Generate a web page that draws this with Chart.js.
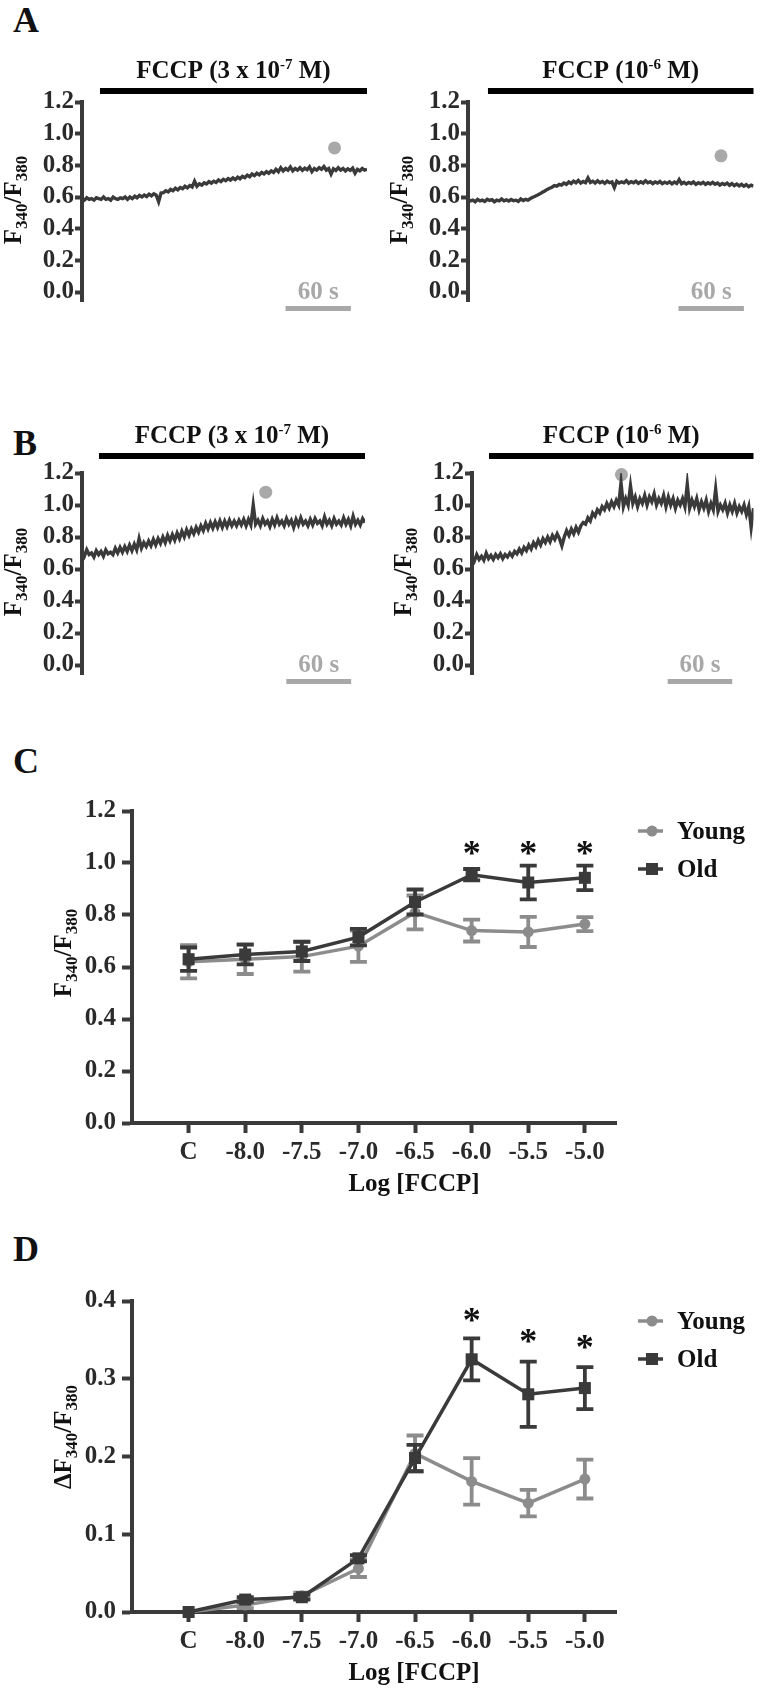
<!DOCTYPE html>
<html>
<head>
<meta charset="utf-8">
<script src="https://cdn.jsdelivr.net/npm/chart.js@4.4.1/dist/chart.umd.min.js"></script>
<style>
  body { margin: 0; background: #fff; }
  #page { position: relative; width: 760px; height: 1689px; overflow: hidden; background: #fff; }
  canvas { position: absolute; }
  .tag { position: absolute; left: 13px; font: bold 36px "Liberation Serif", serif; line-height: 1; color: #111; }
</style>
</head>
<body>
<div id="page">
  <div class="tag" style="top:2px">A</div>
  <div class="tag" style="top:425px">B</div>
  <div class="tag" style="top:743px">C</div>
  <div class="tag" style="top:1231px">D</div>
  <canvas id="a1" width="380" height="300" style="left:0;top:40px"></canvas>
  <canvas id="a2" width="380" height="300" style="left:380px;top:40px"></canvas>
  <canvas id="b1" width="380" height="300" style="left:0;top:400px"></canvas>
  <canvas id="b2" width="380" height="300" style="left:380px;top:400px"></canvas>
  <canvas id="c" width="760" height="410" style="left:0;top:790px"></canvas>
  <canvas id="d" width="760" height="409" style="left:0;top:1280px"></canvas>
</div>
<script>
const FONT = '"Liberation Serif", "Times New Roman", serif';
const DARK = '#3a3a3a';
const GREY = '#8c8c8c';

// --- single cell traces, F340/F380, one sample every dt seconds ---
const dt = 2.2;
const traceA1 = [
  0.59,0.58,0.595,0.585,0.59,0.58,0.595,0.59,0.585,0.6,0.585,0.59,0.58,0.6,0.59,0.585,0.595,0.59,0.6,
  0.585,0.6,0.59,0.605,0.595,0.61,0.6,0.612,0.603,0.618,0.607,0.62,0.611,0.57,0.625,0.628,0.64,
  0.632,0.648,0.64,0.655,0.645,0.66,0.652,0.668,0.658,0.672,0.663,0.7,0.668,0.683,
  0.675,0.69,0.682,0.697,0.688,0.7,0.692,0.708,0.697,0.712,0.703,0.716,0.707,0.72,
  0.71,0.725,0.715,0.73,0.722,0.738,0.728,0.745,0.735,0.75,0.74,0.755,0.746,0.76,0.75,0.765,0.755,0.775,0.76,0.785,0.765,0.78,0.77,0.79,
  0.765,0.78,0.77,0.785,0.768,0.782,0.772,0.79,0.76,0.78,0.77,0.785,0.775,0.792,0.77,0.78,0.745,0.778,0.768,0.785,0.77,0.78,0.765,0.778,0.768,0.782,0.75,0.775,0.765,0.78,0.77,0.775
];
const traceA2 = [
  0.585,0.575,0.58,0.57,0.585,0.575,0.58,0.572,0.586,0.578,0.583,0.57,0.58,0.575,0.588,0.576,0.582,0.574,0.585,0.577,0.58,0.572,0.588,0.578,0.585,0.58,
  0.59,0.598,0.605,0.612,0.62,0.63,0.638,0.648,0.655,0.662,0.672,0.668,0.68,0.675,0.688,0.68,0.695,
  0.685,0.7,0.69,0.705,0.688,0.698,0.69,0.72,0.692,0.7,0.688,0.702,0.69,0.698,0.686,0.7,0.69,0.695,0.66,0.7,
  0.688,0.696,0.69,0.703,0.687,0.697,0.69,0.7,0.686,0.696,0.688,0.702,0.69,0.697,0.685,0.695,0.688,0.698,0.684,0.694,
  0.686,0.696,0.683,0.694,0.685,0.71,0.684,0.693,0.682,0.692,0.685,0.695,0.68,0.69,0.683,0.693,0.68,0.69,0.682,0.692,
  0.68,0.688,0.675,0.686,0.678,0.688,0.674,0.684,0.672,0.682,0.67,0.68,0.668,0.678,0.665,0.675,0.668
];
const traceB1 = [
  0.71,0.68,0.72,0.69,0.70,0.675,0.715,0.69,0.71,0.68,0.72,0.695,0.705,
  0.69,0.73,0.70,0.735,0.705,0.74,0.71,0.75,0.715,0.755,0.72,0.79,0.73,0.765,0.74,0.775,0.745,0.785,0.75,0.79,
  0.76,0.80,0.765,0.81,0.775,0.815,0.78,0.825,0.79,0.835,0.80,0.845,0.81,0.85,0.82,0.86,0.83,0.87,
  0.84,0.885,0.85,0.89,0.855,0.895,0.86,0.9,0.86,0.9,0.865,0.905,0.87,0.9,0.87,0.905,0.875,0.91,0.87,
  0.91,0.875,1.0,0.88,0.905,0.87,0.915,0.88,0.9,0.865,0.91,0.875,0.92,0.88,0.9,0.87,0.915,0.88,0.905,0.86,
  0.91,0.875,0.92,0.88,0.9,0.87,0.91,0.875,0.915,0.885,0.9,0.87,0.925,0.88,0.905,0.87,0.915,0.88,0.9,0.875,
  0.92,0.88,0.91,0.87,0.93,0.88,0.905,0.875,0.915,0.89
];
const traceB2 = [
  0.68,0.65,0.69,0.66,0.68,0.655,0.7,0.665,0.685,0.66,0.69,0.67,0.695,0.665,0.69,0.675,0.7,
  0.68,0.71,0.695,0.725,0.70,0.735,0.715,0.75,0.725,0.765,0.74,0.78,0.75,0.79,0.765,0.80,0.77,0.81,0.785,0.82,0.79,0.745,0.8,0.84,0.81,0.85,0.82,0.86,0.83,
  0.87,0.89,0.88,0.92,0.9,0.95,0.93,0.97,0.95,0.99,0.97,1.01,0.98,1.02,
  0.99,1.03,1.0,1.14,0.99,1.04,1.0,1.12,1.01,1.05,0.99,1.04,1.01,1.06,1.0,1.05,1.02,1.07,1.0,1.04,
  1.01,1.06,0.99,1.05,1.0,1.04,0.98,1.03,1.0,1.04,0.99,1.13,0.98,1.03,0.99,1.04,0.97,1.02,0.98,1.03,
  0.96,1.01,0.97,1.1,0.96,1.0,0.97,1.01,0.95,1.0,0.96,1.01,0.95,0.99,0.96,1.0,0.94,0.99,0.86,0.98
];
const traceTicks = [0, 0.2, 0.4, 0.6, 0.8, 1.0, 1.2];
const fccpConc = [['3 x 10', '-7'], ['10', '-6'], ['3 x 10', '-7'], ['10', '-6']];
const fccpOn = [16.5, 18.3, 15.7, 15.8];      // s
const peakT = [232, 232, 170, 139];           // s
const peakV = [0.91, 0.86, 1.08, 1.19];
const scaleBarT = [187, 193, 189, 182];       // start of the 60 s bar

// --- concentration response ---
const doseLabels = ['C', '-8.0', '-7.5', '-7.0', '-6.5', '-6.0', '-5.5', '-5.0'];
const youngC = [0.62, 0.63, 0.64, 0.68, 0.81, 0.74, 0.735, 0.765];
const youngCErr = [0.064, 0.057, 0.058, 0.06, 0.065, 0.042, 0.058, 0.027];
const oldC = [0.63, 0.648, 0.66, 0.715, 0.85, 0.955, 0.925, 0.943];
const oldCErr = [0.045, 0.038, 0.037, 0.032, 0.048, 0.022, 0.065, 0.047];
const starsC = [null, null, null, null, null, 1.056, 1.056, 1.056];
const ratioTicks = [0, 0.2, 0.4, 0.6, 0.8, 1.0, 1.2];

const youngD = [0, 0.009, 0.021, 0.056, 0.204, 0.168, 0.14, 0.171];
const youngDErr = [0, 0.004, 0.004, 0.011, 0.023, 0.03, 0.017, 0.025];
const oldD = [0, 0.016, 0.019, 0.069, 0.198, 0.325, 0.28, 0.288];
const oldDErr = [0, 0.003, 0.003, 0.004, 0.017, 0.027, 0.042, 0.027];
const starsD = [null, null, null, null, null, 0.382, 0.355, 0.347];
const deltaTicks = [0, 0.1, 0.2, 0.3, 0.4];

// draw text made of pieces (sub/superscripts)
function drawRich(ctx, parts, x, y, align) {
  const widths = parts.map(p => { ctx.font = `bold ${p.size}px ${FONT}`; return ctx.measureText(p.text).width; });
  let cx = align === 'center' ? x - widths.reduce((a, b) => a + b, 0) / 2 : x;
  ctx.textAlign = 'left';
  ctx.textBaseline = 'alphabetic';
  parts.forEach((p, i) => {
    ctx.font = `bold ${p.size}px ${FONT}`;
    ctx.fillText(p.text, cx, y + (p.dy || 0));
    cx += widths[i];
  });
}

function yTitleParts(delta) {
  return [
    { text: (delta ? '\u0394' : '') + 'F', size: 25 },
    { text: '340', size: 17, dy: 6 },
    { text: '/F', size: 25 },
    { text: '380', size: 17, dy: 6 }
  ];
}

function drawYTitle(ctx, parts, x, y) {
  ctx.save();
  ctx.translate(x, y);
  ctx.rotate(-Math.PI / 2);
  ctx.fillStyle = '#111';
  drawRich(ctx, parts, 0, 0, 'center');
  ctx.restore();
}

const traceDeco = {
  id: 'traceDeco',
  afterDraw(chart, args, o) {
    const { ctx, chartArea: ca, scales: { x, y } } = chart;
    ctx.save();
    // FCCP application bar + label
    const x0 = x.getPixelForValue(o.on), x1 = ca.right;
    const barY = ca.top - o.barGap;
    ctx.fillStyle = '#000';
    ctx.fillRect(x0, barY - 3, x1 - x0, 6);
    ctx.fillStyle = '#111';
    drawRich(ctx, [
      { text: 'FCCP (' + o.conc[0], size: 25 },
      { text: o.conc[1], size: 15, dy: -9 },
      { text: ' M)', size: 25 }
    ], (x0 + x1) / 2, barY - 21 + 8, 'center');
    // 60 s scale bar
    const zero = y.getPixelForValue(0);
    const s0 = x.getPixelForValue(o.scaleT), s1 = x.getPixelForValue(o.scaleT + 60);
    ctx.fillStyle = '#a8a8a8';
    ctx.fillRect(s0, zero + 14, s1 - s0, 5);
    drawRich(ctx, [{ text: '60 s', size: 25 }], (s0 + s1) / 2, zero + 7, 'center');
    // y title
    drawYTitle(ctx, yTitleParts(false), ca.left - 61, y.getPixelForValue(0.6) + 3);
    ctx.restore();
  }
};

const traceBoxes = [
  { id: 'a1', left: 0,   top: 40,  axisX: 82,  rightX: 367, topY: 102, zeroY: 292, barGap: 11, data: traceA1 },
  { id: 'a2', left: 380, top: 40,  axisX: 468, rightX: 754, topY: 102, zeroY: 292, barGap: 11, data: traceA2 },
  { id: 'b1', left: 0,   top: 400, axisX: 82,  rightX: 365, topY: 473, zeroY: 665, barGap: 17, data: traceB1 },
  { id: 'b2', left: 380, top: 400, axisX: 472, rightX: 756, topY: 473, zeroY: 665, barGap: 17, data: traceB2 }
];

traceBoxes.forEach((box, k) => {
  const W = 380, H = 300;
  const bottom = box.zeroY + (box.zeroY - box.topY) * 0.05;
  new Chart(document.getElementById(box.id), {
    type: 'line',
    data: {
      datasets: [
        { data: box.data.map((v, i) => ({ x: i * dt, y: v })), borderColor: DARK, borderWidth: 3.4, pointRadius: 0, tension: 0 },
        { data: [{ x: peakT[k], y: peakV[k] }], showLine: false, pointRadius: 6.5, pointBackgroundColor: '#a9a9a9', pointBorderWidth: 0, clip: false }
      ]
    },
    options: {
      responsive: false, animation: false, events: [],
      layout: { padding: { top: box.topY - box.top, bottom: box.top + H - bottom, right: box.left + W - box.rightX, left: 0 } },
      plugins: {
        legend: { display: false }, tooltip: { enabled: false },
        traceDeco: { on: fccpOn[k], conc: fccpConc[k], scaleT: scaleBarT[k], barGap: box.barGap }
      },
      scales: {
        x: { type: 'linear', display: false, min: 0, max: (box.data.length - 1) * dt },
        y: {
          min: -0.06, max: 1.2,
          afterFit: s => { s.width = box.axisX - box.left; },
          afterBuildTicks: s => { s.ticks = traceTicks.map(v => ({ value: v })); },
          grid: { drawOnChartArea: false, tickLength: 7, tickWidth: 4, tickColor: DARK },
          border: { color: DARK, width: 4 },
          ticks: { padding: 1, color: '#2a2a2a', font: { family: FONT, size: 25, weight: 'bold' }, callback: v => v.toFixed(1) }
        }
      }
    },
    plugins: [traceDeco]
  });
});

// error bars drawn just under each dataset
const errorBars = {
  id: 'errorBars',
  beforeDatasetDraw(chart, args) {
    const ds = chart.data.datasets[args.index];
    if (!ds.errors) return;
    const { ctx, scales: { y } } = chart;
    ctx.save();
    ctx.strokeStyle = ds.borderColor;
    ctx.lineWidth = 3.8;
    ds.data.forEach((d, i) => {
      const e = ds.errors[i];
      if (!e) return;
      const px = chart.scales.x.getPixelForValue(d.x);
      const yt = y.getPixelForValue(d.y + e), yb = y.getPixelForValue(d.y - e);
      ctx.beginPath();
      ctx.moveTo(px, yt); ctx.lineTo(px, yb);
      ctx.moveTo(px - 8.5, yt); ctx.lineTo(px + 8.5, yt);
      ctx.moveTo(px - 8.5, yb); ctx.lineTo(px + 8.5, yb);
      ctx.stroke();
    });
    ctx.restore();
  }
};

const doseDeco = {
  id: 'doseDeco',
  afterDraw(chart, args, o) {
    const { ctx, chartArea: ca, scales: { x, y } } = chart;
    ctx.save();
    // significance
    ctx.fillStyle = '#111';
    ctx.font = `bold 36px ${FONT}`;
    ctx.textAlign = 'center';
    ctx.textBaseline = 'alphabetic';
    o.stars.forEach((s, i) => {
      if (s === null) return;
      ctx.fillText('*', x.getPixelForValue(i), y.getPixelForValue(s) + 17);
    });
    // x title
    ctx.fillStyle = '#111';
    drawRich(ctx, [{ text: 'Log [FCCP]', size: 25 }], x.getPixelForValue(4) - 1, ca.bottom + 60 + 8, 'center');
    // y title
    drawYTitle(ctx, yTitleParts(o.delta), ca.left - 61, o.yTitleY);
    // legend
    const items = [chart.data.datasets[1], chart.data.datasets[0]];
    items.forEach((ds, r) => {
      const ly = ca.top + 20 + r * 38, lx = ca.right + 22;
      ctx.strokeStyle = ds.borderColor;
      ctx.lineWidth = 3.5;
      ctx.beginPath(); ctx.moveTo(lx, ly); ctx.lineTo(lx + 25, ly); ctx.stroke();
      ctx.fillStyle = ds.borderColor;
      if (ds.pointStyle === 'rect') {
        ctx.fillRect(lx + 14 - 6, ly - 6, 12, 12);
      } else {
        ctx.beginPath(); ctx.arc(lx + 14, ly, 5.5, 0, Math.PI * 2); ctx.fill();
      }
      ctx.fillStyle = '#111';
      drawRich(ctx, [{ text: ds.label, size: 25 }], lx + 39, ly + 8, 'left');
    });
    ctx.restore();
  }
};

function doseChart(id, top, h, topY, zeroY, young, youngErr, old, oldErr, ticksArr, stars, delta, yTitleY) {
  const series = (vals) => vals.map((v, i) => ({ x: i, y: v }));
  new Chart(document.getElementById(id), {
    type: 'line',
    data: {
      datasets: [
        { label: 'Old', data: series(old), errors: oldErr, borderColor: DARK, backgroundColor: DARK, borderWidth: 3.5,
          pointStyle: 'rect', pointRadius: 8.5, pointBorderWidth: 0, pointBackgroundColor: DARK, tension: 0, clip: false },
        { label: 'Young', data: series(young), errors: youngErr, borderColor: GREY, backgroundColor: GREY, borderWidth: 3.5,
          pointStyle: 'circle', pointRadius: 5.5, pointBorderWidth: 0, pointBackgroundColor: GREY, tension: 0, clip: false }
      ]
    },
    options: {
      responsive: false, animation: false, events: [],
      layout: { padding: { top: topY - top, bottom: top + h - zeroY - 50, right: 760 - 616, left: 0 } },
      plugins: {
        legend: { display: false }, tooltip: { enabled: false },
        doseDeco: { stars: stars, delta: delta, yTitleY: yTitleY - top }
      },
      scales: {
        x: {
          type: 'linear', min: -1, max: 7.55,
          afterFit: s => { s.height = 50; },
          afterBuildTicks: s => { s.ticks = doseLabels.map((_, i) => ({ value: i })); },
          grid: { drawOnChartArea: false, tickLength: 10, tickWidth: 4, tickColor: DARK },
          border: { color: DARK, width: 4 },
          ticks: { padding: 5, maxRotation: 0, autoSkip: false, color: '#2a2a2a',
                   font: { family: FONT, size: 25, weight: 'bold' }, callback: v => doseLabels[v] }
        },
        y: {
          min: ticksArr[0], max: ticksArr[ticksArr.length - 1],
          afterFit: s => { s.width = 132; },
          afterBuildTicks: s => { s.ticks = ticksArr.map(v => ({ value: v })); },
          grid: { drawOnChartArea: false, tickLength: 10, tickWidth: 4, tickColor: DARK },
          border: { color: DARK, width: 4 },
          ticks: { padding: 6, color: '#2a2a2a', font: { family: FONT, size: 25, weight: 'bold' }, callback: v => v.toFixed(1) }
        }
      }
    },
    plugins: [errorBars, doseDeco]
  });
}

doseChart('c', 790, 410, 807, 1123, youngC, youngCErr, oldC, oldCErr, ratioTicks, starsC, false, 953);
doseChart('d', 1280, 409, 1298, 1612, youngD, youngDErr, oldD, oldDErr, deltaTicks, starsD, true, 1437);
</script>
</body>
</html>
